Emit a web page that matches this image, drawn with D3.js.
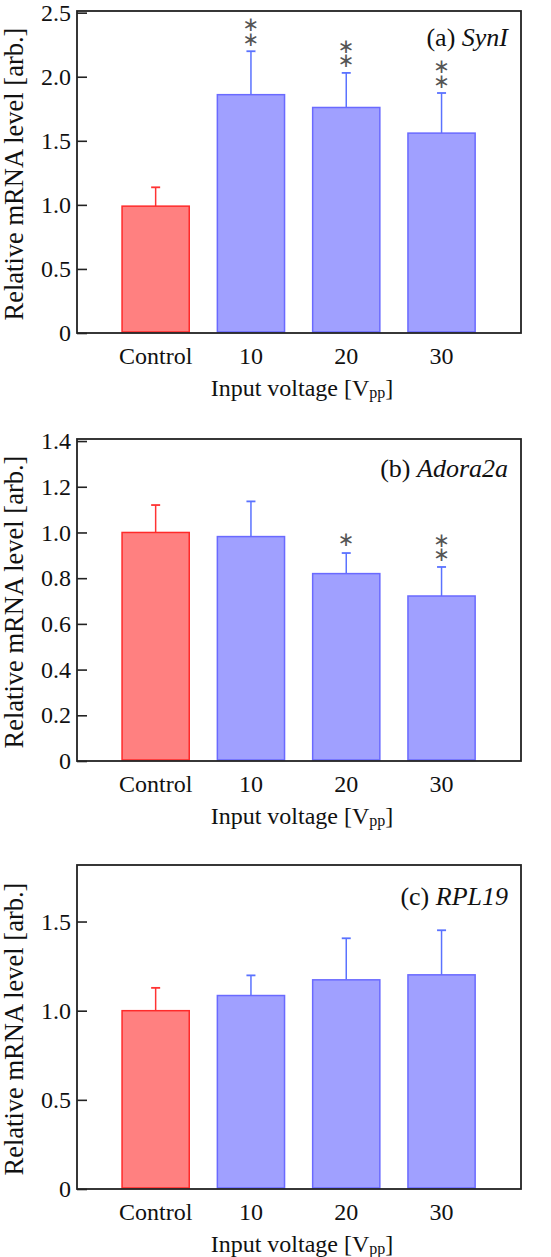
<!DOCTYPE html>
<html><head><meta charset="utf-8">
<script src="https://cdn.jsdelivr.net/npm/d3@7"></script>
<style>body{margin:0;background:#fff}svg{display:block}</style>
</head><body><div id="chart"></div>
<script>
// ---- data ----
const categories = ["Control", "10", "20", "30"];
const synIMean = [0.99, 1.86, 1.76, 1.56];
const synIErr = [0.147, 0.339, 0.27, 0.313];
const synIStars = ["", "**", "**", "**"];
const synITicks = [0, 0.5, 1.0, 1.5, 2.0, 2.5];

const adoraMean = [1.0, 0.982, 0.82, 0.722];
const adoraErr = [0.12, 0.154, 0.09, 0.127];
const adoraStars = ["", "", "*", "**"];
const adoraTicks = [0, 0.2, 0.4, 0.6, 0.8, 1.0, 1.2, 1.4];

const rplMean = [1.0, 1.085, 1.173, 1.201];
const rplErr = [0.128, 0.113, 0.233, 0.25];
const rplStars = ["", "", "", ""];
const rplTicks = [0, 0.5, 1.0, 1.5];

const panelLabels = ["(a) ", "(b) ", "(c) "];
const geneNames = ["SynI", "Adora2a", "RPL19"];
const xTitle = "Input voltage [V";
const xTitleSub = "pp";
const yTitle = "Relative mRNA level [arb.]";

// ---- layout ----
const W = 551, H = 1257;
const frameL = 77, frameR = 521;
const serif = "'Liberation Serif','Times New Roman',serif";
const panels = [
  {mean: synIMean, err: synIErr, stars: synIStars, ticks: synITicks, top: 11, bottom: 333, yMax: 2.513, titleY: 46},
  {mean: adoraMean, err: adoraErr, stars: adoraStars, ticks: adoraTicks, top: 439, bottom: 761, yMax: 1.409, titleY: 477},
  {mean: rplMean, err: rplErr, stars: rplStars, ticks: rplTicks, top: 865, bottom: 1189, yMax: 1.817, titleY: 905}
];

const svg = d3.select("#chart").append("svg").attr("width", W).attr("height", H)
  .style("font-family", serif);

const x = d3.scaleBand().domain(categories).range([108, 489.2])
  .paddingInner(0.295).paddingOuter(0.1475);

const fill = i => i === 0 ? "#ff8080" : "#a0a0ff";
const stroke = i => i === 0 ? "#ff2a2a" : "#6a6aff";
const errCol = i => i === 0 ? "#ff3333" : "#5a72ff";
const fmt = d => d === 0 ? "0" : d3.format(".1f")(d);
const starGap = 13;
const starSize = 20;

panels.forEach((p, pi) => {
  const g = svg.append("g");
  const y = d3.scaleLinear().domain([0, p.yMax]).range([p.bottom, p.top]);
  const rows = categories.map((c, i) => ({c, i, m: p.mean[i], e: p.err[i], s: p.stars[i]}));
  const cx = d => x(d.c) + x.bandwidth() / 2;

  // error bars (behind bars)
  const eb = g.append("g").selectAll("g").data(rows).join("g");
  eb.append("line")
    .attr("x1", cx).attr("x2", cx)
    .attr("y1", d => y(d.m)).attr("y2", d => y(d.m + d.e))
    .attr("stroke", d => errCol(d.i)).attr("stroke-width", 1.5);
  eb.append("line")
    .attr("x1", d => cx(d) - 4.5).attr("x2", d => cx(d) + 4.5)
    .attr("y1", d => y(d.m + d.e)).attr("y2", d => y(d.m + d.e))
    .attr("stroke", d => errCol(d.i)).attr("stroke-width", 1.8);

  // bars
  g.append("g").selectAll("rect").data(rows).join("rect")
    .attr("x", d => x(d.c)).attr("width", x.bandwidth())
    .attr("y", d => y(d.m)).attr("height", d => y(0) - y(d.m) - 1)
    .attr("fill", d => fill(d.i)).attr("stroke", d => stroke(d.i)).attr("stroke-width", 1.5);

  // significance stars: one vertical text element per bar
  g.append("g").selectAll("text").data(rows.filter(d => d.s.length > 0)).join("text")
    .style("writing-mode", "vertical-rl").style("text-orientation", "upright")
    .style("letter-spacing", "-9.5px")
    .attr("font-family", "'DejaVu Sans',sans-serif")
    .attr("font-size", starSize).attr("fill", "#555")
    .attr("x", cx)
    .attr("y", d => y(d.m + d.e) - starGap * d.s.length - 0.65 * starSize)
    .text(d => d.s.replace(/\*/g, "\u2217"));

  // frame
  g.append("rect").attr("x", frameL).attr("y", p.top)
    .attr("width", frameR - frameL).attr("height", p.bottom - p.top)
    .attr("fill", "none").attr("stroke", "#222").attr("stroke-width", 1.8);

  // y axis (inward ticks)
  const ax = g.append("g").attr("transform", `translate(${frameL},0)`)
    .call(d3.axisLeft(y).tickValues(p.ticks).tickSize(-10).tickPadding(6).tickFormat(fmt));
  ax.select(".domain").remove();
  ax.selectAll(".tick line").attr("stroke", "#222").attr("stroke-width", 1.6);
  ax.selectAll(".tick text").attr("font-family", serif).attr("font-size", 24).attr("fill", "#111");

  // x category labels
  g.append("g").selectAll("text").data(categories).join("text")
    .attr("x", c => x(c) + x.bandwidth() / 2).attr("y", p.bottom + 31)
    .attr("text-anchor", "middle").attr("font-size", 24).attr("fill", "#111")
    .text(c => c);

  // x title
  const xt = g.append("text").attr("x", 302).attr("y", p.bottom + 63)
    .attr("text-anchor", "middle").attr("font-size", 24).attr("fill", "#111");
  xt.append("tspan").text(xTitle);
  xt.append("tspan").attr("font-size", 16).attr("dy", 2).text(xTitleSub);
  xt.append("tspan").attr("dy", -2).text("]");

  // y title
  g.append("text")
    .attr("transform", `translate(23,${(p.top + p.bottom) / 2 + 2}) rotate(-90)`)
    .attr("text-anchor", "middle").attr("font-size", 26.5).attr("fill", "#111")
    .text(yTitle);

  // panel title
  const pt = g.append("text").attr("x", 508).attr("y", p.titleY)
    .attr("text-anchor", "end").attr("font-size", 26).attr("fill", "#111");
  pt.append("tspan").text(panelLabels[pi]);
  pt.append("tspan").attr("font-style", "italic").text(geneNames[pi]);
});
</script>
</body></html>
